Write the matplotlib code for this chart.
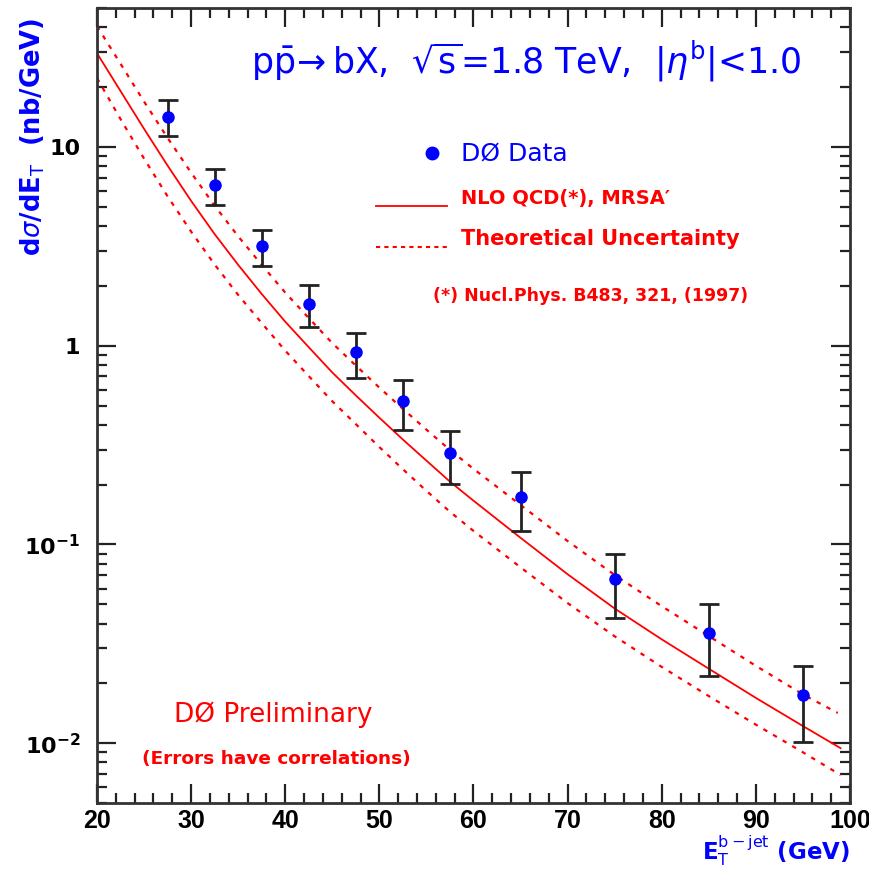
import numpy as np
import matplotlib
matplotlib.use("Agg")
import matplotlib.pyplot as plt
from matplotlib.ticker import FixedLocator, FixedFormatter, MultipleLocator, NullFormatter

# ---- data ----
et_data = [27.5, 32.5, 37.5, 42.5, 47.5, 52.5, 57.5, 65, 75, 85, 95]
xs_data = [14.2, 6.45, 3.19, 1.63, 0.925, 0.527, 0.288, 0.173, 0.0673, 0.0360, 0.0174]
xs_hi = [17.3, 7.78, 3.84, 2.03, 1.164, 0.671, 0.374, 0.231, 0.0898, 0.0500, 0.0245]
xs_lo = [11.35, 5.12, 2.53, 1.24, 0.686, 0.376, 0.202, 0.1167, 0.0429, 0.0217, 0.0102]

et_nlo = [20, 22.5, 25, 27.5, 30, 32.5, 35, 37.5, 40, 42.5, 45, 47.5, 50, 52.5, 55,
          57.5, 60, 65, 70, 75, 80, 85, 90, 95, 99]
nlo_central = [29.6, 19.1, 12.33, 8.05, 5.35, 3.64, 2.55, 1.82, 1.32, 0.982, 0.733, 0.562,
               0.434, 0.337, 0.264, 0.207, 0.166, 0.108, 0.0708, 0.0476, 0.0333, 0.0237,
               0.0169, 0.0122, 0.00944]
nlo_lower = [22.2, 13.8, 8.73, 5.64, 3.75, 2.56, 1.80, 1.30, 0.944, 0.703, 0.525, 0.403,
             0.309, 0.239, 0.186, 0.146, 0.117, 0.0767, 0.0507, 0.0345, 0.0242, 0.01726,
             0.0124, 0.0090, 0.00692]
et_up = [20, 22.5, 25, 27.5, 30, 32.5, 35, 37.5, 40, 42.5, 45, 47.5, 50, 52.5, 55,
         57.5, 60, 65, 70, 75, 80, 85, 90, 95, 98.7]
nlo_upper = [40.5, 26.2, 16.9, 11.1, 7.42, 5.06, 3.55, 2.55, 1.85, 1.377, 1.03, 0.794,
             0.615, 0.481, 0.378, 0.299, 0.240, 0.158, 0.104, 0.0702, 0.0489, 0.0346,
             0.0245, 0.0176, 0.0142]

ytick_vals = [0.01, 0.1, 1, 10]
ytick_labels = [r'$\mathbf{10^{-2}}$', r'$\mathbf{10^{-1}}$', '1', '10']
xtick_vals = [20, 30, 40, 50, 60, 70, 80, 90, 100]

BLUE = '#0000ff'
RED = '#ff0000'

fig = plt.figure(figsize=(8.7, 8.69), dpi=100)
ax = fig.add_axes([0.1115, 0.0759, 0.8655, 0.9149])
ax.set_yscale('log')
ax.set_xlim(20, 100)
ax.set_ylim(0.005, 50)

ax.plot(et_nlo, nlo_central, color=RED, lw=1.3)
ax.plot(et_up, nlo_upper, color=RED, lw=1.6, linestyle=(0, (2, 3)))
ax.plot(et_nlo, nlo_lower, color=RED, lw=1.6, linestyle=(0, (2, 3)))

yerr = [np.array(xs_data) - np.array(xs_lo), np.array(xs_hi) - np.array(xs_data)]
ax.errorbar(et_data, xs_data, yerr=yerr, fmt='none', ecolor='#222222', elinewidth=2,
            capsize=7.5, capthick=2, zorder=3)
ax.plot(et_data, xs_data, 'o', color=BLUE, ms=8, zorder=4)

# ticks
ax.xaxis.set_major_locator(FixedLocator(xtick_vals))
ax.xaxis.set_minor_locator(MultipleLocator(2))
ax.yaxis.set_major_locator(FixedLocator(ytick_vals))
ax.yaxis.set_major_formatter(FixedFormatter(ytick_labels))
ax.yaxis.set_minor_formatter(NullFormatter())
ax.tick_params(which='both', direction='in', top=True, right=True, width=1.6,
               colors='#222222', labelcolor='black')
ax.tick_params(which='major', length=14, labelsize=16)
ax.tick_params(axis='x', which='major', pad=4, labelsize=18)
ax.tick_params(axis='y', which='major', pad=12)
ax.tick_params(which='minor', length=7)
for lab in ax.get_xticklabels():
    lab.set_fontfamily('Liberation Sans')
    lab.set_fontweight('bold')
for lab in ax.get_yticklabels():
    lab.set_fontweight('bold')
for s in ax.spines.values():
    s.set_linewidth(2)
    s.set_color('#333333')

# axis labels
fig.text(0.038, 0.842, r'd$\sigma$/dE$_\mathrm{T}$  (nb/GeV)', rotation=90, color=BLUE,
         fontsize=18.5, fontweight='bold', ha='center', va='center')
fig.text(0.977, 0.021, r'E$_\mathrm{T}^{\mathrm{b-jet}}$ (GeV)', color=BLUE,
         fontsize=16.5, fontweight='bold', ha='right', va='center')

# title text inside
ax.text(0.57, 0.933, r'p$\bar{\mathrm{p}}\!\rightarrow$bX,  $\sqrt{\mathrm{s}}$=1.8 TeV,  |$\eta^{\mathrm{b}}$|<1.0',
        transform=ax.transAxes, color=BLUE, fontsize=25, ha='center', va='center')

# legend
ax.plot([0.445], [0.8175], 'o', color=BLUE, ms=9, transform=ax.transAxes)
ax.text(0.484, 0.8175, 'DØ Data', transform=ax.transAxes, color=BLUE, fontsize=18,
        ha='left', va='center')
ax.plot([0.371, 0.465], [0.751, 0.751], color=RED, lw=1.3, transform=ax.transAxes)
ax.text(0.484, 0.760, 'NLO QCD(*), MRSA′', transform=ax.transAxes, color=RED,
        fontsize=14, fontweight='bold', ha='left', va='center')
ax.plot([0.371, 0.465], [0.700, 0.700], color=RED, lw=1.5, linestyle=(0, (2, 2)),
        transform=ax.transAxes)
ax.text(0.484, 0.710, 'Theoretical Uncertainty', transform=ax.transAxes, color=RED,
        fontsize=15, fontweight='bold', ha='left', va='center')
ax.text(0.446, 0.638, '(*) Nucl.Phys. B483, 321, (1997)', transform=ax.transAxes,
        color=RED, fontsize=12.5, fontweight='bold', ha='left', va='center')

ax.text(0.234, 0.111, 'DØ Preliminary', transform=ax.transAxes, color=RED, fontsize=19,
        ha='center', va='center')
ax.text(0.238, 0.056, '(Errors have correlations)', transform=ax.transAxes, color=RED,
        fontsize=13.3, fontweight='bold', ha='center', va='center')

fig.savefig('out.png', dpi=100)
